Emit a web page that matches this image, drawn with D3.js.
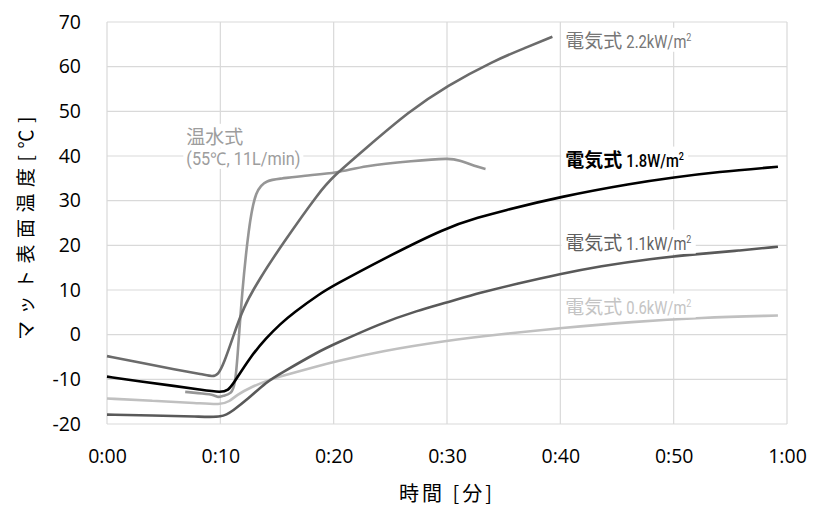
<!DOCTYPE html>
<html>
<head>
<meta charset="utf-8">
<script src="https://cdn.jsdelivr.net/npm/d3@7"></script>
<style>
  body { margin: 0; background: #fff; }
  svg { display: block; }
</style>
</head>
<body>
<svg id="chart" width="813" height="506"></svg>
<script>
// time in minutes, temperature in deg C
const xTicks = [0, 10, 20, 30, 40, 50, 60];
const xTickLabels = ["0:00", "0:10", "0:20", "0:30", "0:40", "0:50", "1:00"];
const yTicks = [-20, -10, 0, 10, 20, 30, 40, 50, 60, 70];

const elec22 = [[0, -4.8], [3, -6.3], [6, -7.8], [8.5, -8.9], [9.3, -9.4], [9.8, -9], [10.3, -6.5],
  [11.1, -0.7], [12, 6], [13.5, 12.7], [15.5, 20.4], [18.8, 32.2], [20, 35.5], [22.6, 41.2],
  [26.7, 50.1], [30, 55.7], [34.1, 61.3], [37, 64.3], [39.3, 66.7]];
const elec18 = [[0, -9.4], [3, -10.5], [6, -11.5], [8.2, -12.3], [10.1, -13], [10.7, -12.4], [11.1, -11.2],
  [12.6, -5.1], [14.1, -0.6], [15.3, 2.4], [16.4, 4.8], [18.8, 9.2], [20, 11], [24.1, 16.6],
  [30, 24.1], [32.9, 26.3], [34.7, 27.6], [40, 30.9], [46.4, 33.9], [50, 35.2], [53.8, 36.4], [59.2, 37.6]];
const elec11 = [[0, -17.9], [4, -18.1], [8, -18.3], [10.2, -18.6], [11.1, -17], [12.4, -14.5], [14.1, -10.5],
  [15.3, -8.7], [18.8, -3.6], [20, -2.2], [24.1, 2.5], [27.4, 5.4], [30, 7.2], [32.9, 9.4],
  [36.2, 11.4], [40, 13.6], [43.5, 15.3], [47.9, 17], [52.3, 18.1], [55.7, 18.8], [59.2, 19.7]];
const elec06 = [[0, -14.3], [4, -14.8], [8, -15.3], [10, -15.7], [10.8, -15], [11.5, -13.4], [12.6, -11.9],
  [14.1, -10.3], [15.3, -9.3], [18.8, -6.9], [20, -6.1], [24.1, -3.7], [30, -1.3], [34.7, 0.1],
  [40, 1.5], [46.4, 2.9], [52.3, 3.8], [59.2, 4.3]];
const water = [[6.9, -12.8], [8.5, -13.2], [9.5, -13.5], [9.8, -14.1], [10.2, -13.7], [11, -13.3],
  [11.3, -11], [11.5, -5.8], [11.9, 9.2], [12.5, 24], [13.1, 32.5], [14.1, 34.6], [15.3, 34.9],
  [17.3, 35.6], [20.4, 36.2], [22.6, 37.8], [27, 38.9], [30.3, 39.5], [30.9, 39.2], [32.9, 37.4], [33.4, 37.1]];

const seriesData = [
  {name: "0.6", values: elec06, color: "#c0c0c0", width: 2.6},
  {name: "1.1", values: elec11, color: "#595959", width: 2.6},
  {name: "water", values: water, color: "#969696", width: 2.6},
  {name: "2.2", values: elec22, color: "#6b6b6b", width: 2.6},
  {name: "1.8", values: elec18, color: "#000000", width: 2.6}
];

const margin = {top: 22, right: 26, bottom: 82, left: 107};
const width = 813, height = 506;

const x = d3.scaleLinear().domain([0, 60]).range([margin.left, width - margin.right]);
const y = d3.scaleLinear().domain([-20, 70]).range([height - margin.bottom, margin.top]);

const svg = d3.select("#chart");
const tickFont = "'Open Sans', 'Noto Sans', sans-serif";
const jpFont = "'Noto Sans CJK JP', sans-serif";

// grid
svg.append("g")
  .selectAll("line")
  .data(yTicks)
  .join("line")
  .attr("x1", x(0)).attr("x2", x(60))
  .attr("y1", d => y(d)).attr("y2", d => y(d))
  .attr("stroke", "#d9d9d9").attr("stroke-width", 1.2);

svg.append("g")
  .selectAll("line")
  .data(xTicks)
  .join("line")
  .attr("x1", d => x(d)).attr("x2", d => x(d))
  .attr("y1", y(-20)).attr("y2", y(70))
  .attr("stroke", "#d9d9d9").attr("stroke-width", 1.2);

// axes
const yAxis = d3.axisLeft(y).tickValues(yTicks).tickSize(0).tickPadding(26)
  .tickFormat(d => String(d));
svg.append("g")
  .attr("transform", `translate(${margin.left},0)`)
  .call(yAxis)
  .call(g => g.select(".domain").remove())
  .selectAll("text")
  .attr("font-family", tickFont).attr("font-size", 19.5).attr("fill", "#000");

const xAxis = d3.axisBottom(x).tickValues(xTicks).tickSize(0).tickPadding(25)
  .tickFormat((d, i) => xTickLabels[i]);
svg.append("g")
  .attr("transform", `translate(0,${y(-20)})`)
  .call(xAxis)
  .call(g => g.select(".domain").remove())
  .selectAll("text")
  .attr("font-family", tickFont).attr("font-size", 19.5).attr("fill", "#000");

// axis titles
svg.append("text")
  .attr("transform", `translate(33,${225}) rotate(-90)`)
  .attr("text-anchor", "middle")
  .attr("font-family", jpFont).attr("font-size", 19)
  .attr("letter-spacing", 6.5)
  .text("マット表面温度[℃]");

svg.append("text")
  .attr("x", 447).attr("y", 501)
  .attr("text-anchor", "middle")
  .attr("font-family", jpFont).attr("font-size", 20)
  .attr("letter-spacing", 3)
  .text("時間 [分]");

// lines
const line = d3.line()
  .x(d => x(d[0]))
  .y(d => y(d[1]))
  .curve(d3.curveBasis);

svg.append("g")
  .selectAll("path")
  .data(seriesData)
  .join("path")
  .attr("d", d => line(d.values))
  .attr("fill", "none")
  .attr("stroke", d => d.color)
  .attr("stroke-width", d => d.width)
  .attr("stroke-linejoin", "round");

// labels: kanji + condensed numbers, on white backing
const numFont = "'Roboto', sans-serif";
function label(xp, yp, kanji, num, color, weight) {
  const g = svg.append("g");
  const bg = g.append("rect").attr("fill", "#fff");
  const t = g.append("text")
    .attr("x", xp).attr("y", yp)
    .attr("fill", color).attr("font-weight", weight)
    .attr("font-family", jpFont).attr("font-size", 19)
    .text(kanji);
  let b = t.node().getBBox();
  let right = b.x + b.width;
  if (num) {
    const n = g.append("text")
      .attr("transform", `translate(${right + 4},${yp}) scale(0.82,1)`)
      .attr("fill", color).attr("font-weight", weight === "bold" ? 500 : 400)
      .attr("font-family", numFont).attr("font-size", 18);
    n.append("tspan").text(num);
    n.append("tspan").text("2").attr("font-size", 11).attr("dy", -7);
    right += 4 + n.node().getBBox().width * 0.82;
  }
  bg.attr("x", b.x - 4).attr("y", b.y + 2).attr("width", right - b.x + 8).attr("height", b.height - 3);
}

const elecLabels = [
  {value: "2.2kW/m", yv: 65.8, color: "#767676", weight: "normal"},
  {value: "1.8W/m", yv: 39.2, color: "#000000", weight: "bold"},
  {value: "1.1kW/m", yv: 20.6, color: "#5f5f5f", weight: "normal"},
  {value: "0.6kW/m", yv: 6.3, color: "#c4c4c4", weight: "normal"}
];
elecLabels.forEach(l => label(x(40) + 5, y(l.yv) + 7, "電気式", l.value, l.color, l.weight));

label(x(7), y(44.3) + 7, "温水式", null, "#9d9d9d", "normal");
svg.append("g").call(g => {
  const bg = g.append("rect").attr("fill", "#fff");
  const t = g.append("text")
    .attr("transform", `translate(${x(7)},${y(39.6) + 7}) scale(0.93,1)`)
    .attr("fill", "#9d9d9d")
    .attr("font-family", numFont).attr("font-size", 17.5)
    .text("(55℃, 11L/min)");
  const b = t.node().getBBox();
  bg.attr("x", x(7) - 3).attr("y", y(39.6) + 7 + b.y).attr("width", b.width * 0.93 + 6).attr("height", b.height);
});
</script>
</body>
</html>
